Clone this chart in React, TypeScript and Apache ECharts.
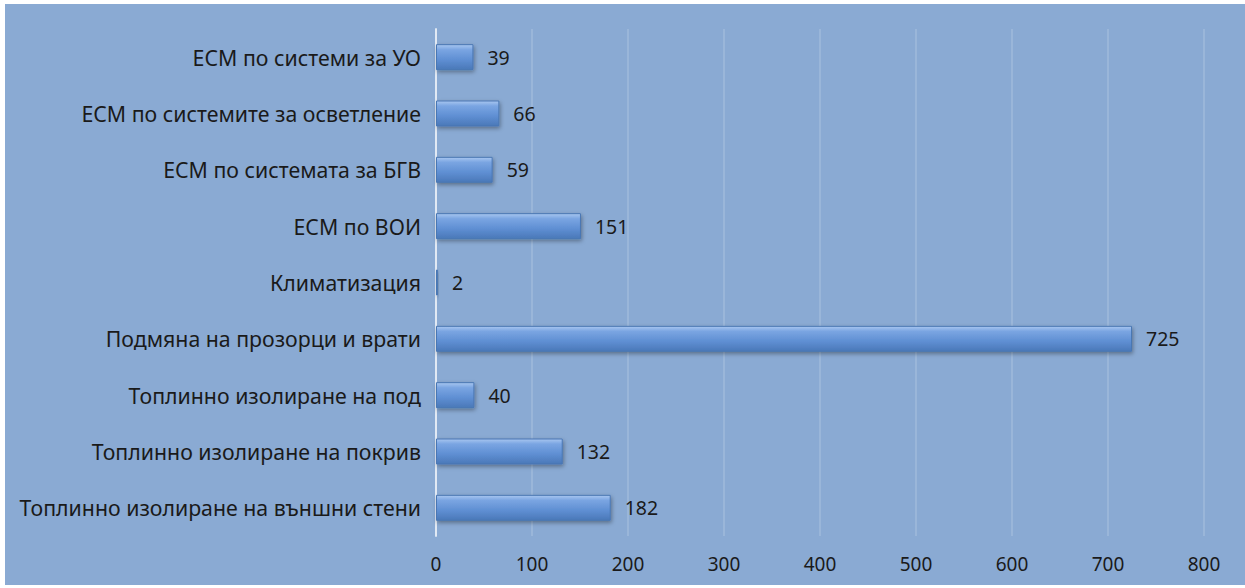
import React, { useEffect, useRef } from "react";
import * as echarts from "echarts";

const categories = [
  "Топлинно изолиране на външни стени",
  "Топлинно изолиране на покрив",
  "Топлинно изолиране на под",
  "Подмяна на прозорци и врати",
  "Климатизация",
  "ЕСМ по ВОИ",
  "ЕСМ по системата за БГВ",
  "ЕСМ по системите за осветление",
  "ЕСМ по системи за УО",
];
const values = [182, 132, 40, 725, 2, 151, 59, 66, 39];
const xMin = 0;
const xMax = 800;
const xInterval = 100;

export default function App() {
  const ref = useRef<HTMLDivElement>(null);
  useEffect(() => {
    document.body.style.margin = "0";
    if (!ref.current) return;
    const chart = echarts.init(ref.current, null, { renderer: "svg" });
    const font = "'Noto Sans', sans-serif";
    chart.setOption({
      animation: false,
      backgroundColor: "#8aaad3",
      grid: { left: 431, right: 41, top: 25, bottom: 49 },
      xAxis: {
        type: "value",
        min: xMin,
        max: xMax,
        interval: xInterval,
        axisLine: { show: false },
        axisTick: { show: false },
        axisLabel: { color: "#1a1a1a", fontSize: 19, fontFamily: font, margin: 18 },
        splitLine: { lineStyle: { color: "rgba(255,255,255,0.14)", width: 2 } },
      },
      yAxis: {
        type: "category",
        data: categories,
        axisLine: { lineStyle: { color: "rgba(255,255,255,0.7)", width: 2 } },
        axisTick: { show: false },
        axisLabel: { color: "#1a1a1a", fontSize: 21.3, fontFamily: font, margin: 15 },
      },
      series: [
        {
          type: "bar",
          data: values,
          barWidth: 26,
          itemStyle: {
            color: new echarts.graphic.LinearGradient(0, 0, 0, 1, [
              { offset: 0, color: "#a8c6f0" },
              { offset: 0.2, color: "#7aa5e2" },
              { offset: 0.6, color: "#5f8fd3" },
              { offset: 1, color: "#4a78b8" },
            ]),
            borderColor: "#4a77b3",
            borderWidth: 1,
            shadowColor: "rgba(0,0,0,0.35)",
            shadowBlur: 4,
            shadowOffsetX: 1,
            shadowOffsetY: 2,
          },
          label: {
            show: true,
            position: "right",
            distance: 14,
            color: "#1a1a1a",
            fontSize: 19.5,
            fontFamily: font,
          },
        },
      ],
    });
    return () => chart.dispose();
  }, []);
  return (
    <div
      ref={ref}
      style={{ position: "absolute", left: 5, top: 4, width: 1240, height: 581 }}
    />
  );
}
